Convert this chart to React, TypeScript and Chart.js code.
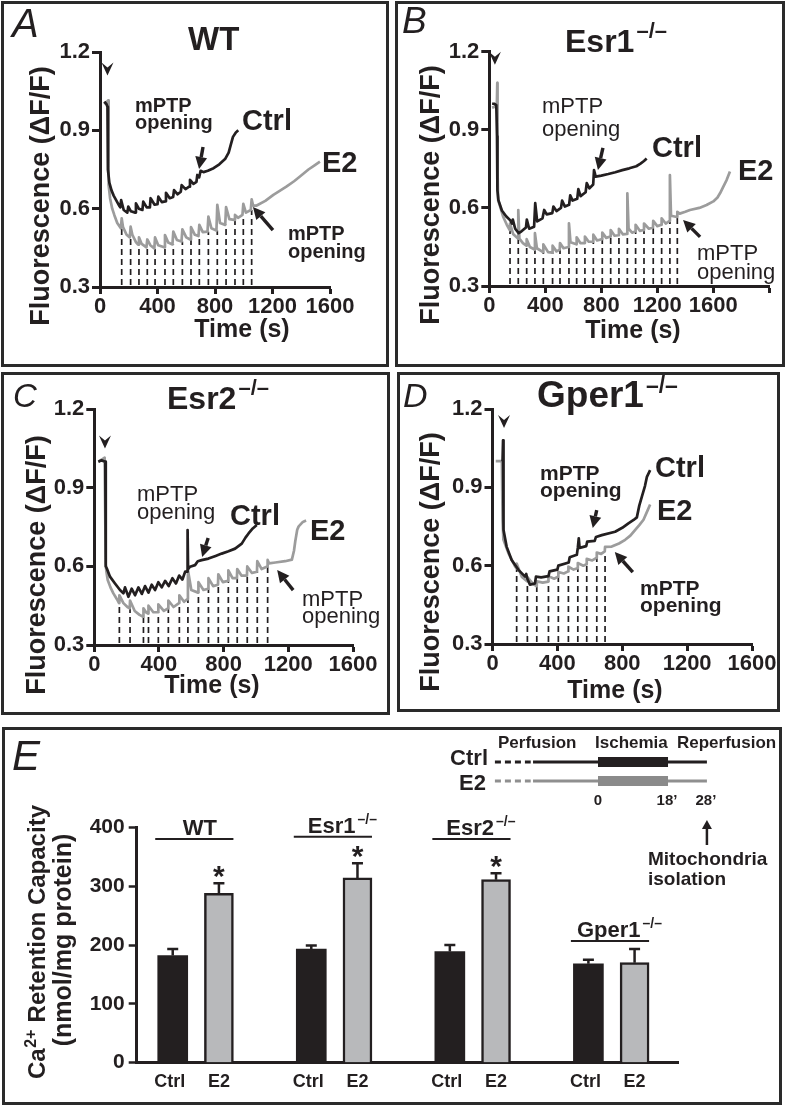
import React, { useEffect, useRef } from 'react';
import { Chart, registerables } from 'chart.js';

Chart.register(...registerables);

const SANS = "'Liberation Sans', Arial, Helvetica, sans-serif";
const NARROW = "'Liberation Sans Narrow', 'Arial Narrow', 'Liberation Sans', Arial, sans-serif";
const INK = '#231f20';
const GRAY = '#9c9c9c';

// ---------------- Panel A: WT ----------------
const wtCtrl = [[30,1.01],[45,1.0],[52,0.99],[55,0.75],[65,0.70],[80,0.67],[95,0.65],[115,0.63],[135,0.61],[141,0.605],[147,0.633],[165,0.595],[190,0.585],[197,0.608],[215,0.59],[245,0.585],[250,0.62],[270,0.60],[295,0.595],[301,0.627],[325,0.605],[347,0.605],[352,0.640],[380,0.615],[400,0.617],[406,0.646],[430,0.625],[453,0.628],[459,0.661],[485,0.64],[509,0.645],[515,0.671],[540,0.655],[562,0.665],[568,0.690],[595,0.675],[620,0.684],[626,0.71],[650,0.695],[671,0.703],[677,0.729],[690,0.72],[700,0.745],[720,0.74],[750,0.745],[790,0.755],[830,0.77],[870,0.79],[895,0.815],[910,0.845],[925,0.875],[945,0.892],[962,0.9]];
const wtE2 = [[30,1.0],[50,1.01],[57,1.015],[60,0.69],[70,0.64],[85,0.6],[100,0.575],[120,0.545],[145,0.525],[151,0.563],[160,0.53],[185,0.5],[207,0.49],[213,0.531],[225,0.5],[250,0.472],[265,0.462],[271,0.49],[290,0.465],[323,0.452],[329,0.482],[350,0.46],[378,0.448],[383,0.49],[405,0.46],[446,0.452],[452,0.499],[475,0.47],[504,0.463],[510,0.512],[535,0.48],[567,0.474],[573,0.521],[600,0.49],[627,0.482],[633,0.529],[660,0.5],[685,0.495],[691,0.538],[715,0.51],[748,0.512],[754,0.57],[775,0.525],[810,0.516],[816,0.615],[835,0.545],[871,0.538],[877,0.606],[900,0.56],[933,0.557],[939,0.576],[960,0.565],[991,0.576],[997,0.618],[1015,0.585],[1049,0.595],[1055,0.636],[1065,0.612],[1090,0.612],[1150,0.63],[1206,0.653],[1250,0.668],[1299,0.685],[1350,0.705],[1391,0.723],[1450,0.75],[1490,0.765],[1530,0.78]];
const wtPulseTimes = [151,213,271,329,383,452,510,573,633,691,754,816,877,939,997,1055];
const wtPulseLevels = [0.525,0.49,0.462,0.452,0.448,0.452,0.463,0.474,0.482,0.495,0.512,0.516,0.538,0.557,0.576,0.595];
const wtMptp = [[689,0.752],[1064,0.606]];
const wtInjection = [52,1.11];

// ---------------- Panel B: Esr1-/- ----------------
const esr1Ctrl = [[20,1.0],[35,1.0],[50,0.995],[55,0.875],[58,0.667],[65,0.63],[90,0.59],[120,0.568],[150,0.552],[162,0.54],[168,0.555],[185,0.52],[210,0.503],[230,0.51],[262,0.525],[268,0.555],[285,0.52],[320,0.528],[328,0.618],[342,0.548],[380,0.56],[392,0.592],[410,0.575],[450,0.58],[458,0.605],[480,0.588],[512,0.6],[520,0.628],[540,0.605],[570,0.612],[578,0.648],[595,0.628],[628,0.635],[636,0.672],[652,0.645],[688,0.66],[696,0.695],[715,0.675],[742,0.69],[748,0.745],[760,0.72],[800,0.724],[850,0.73],[900,0.737],[950,0.745],[1000,0.752],[1050,0.76],[1080,0.77],[1105,0.78],[1124,0.79]];
const esr1E2 = [[20,0.985],[45,0.99],[54,1.0],[57,1.08],[59,0.74],[63,0.63],[80,0.6],[100,0.565],[125,0.535],[146,0.515],[148,0.54],[170,0.5],[205,0.482],[207,0.592],[215,0.482],[240,0.465],[265,0.455],[267,0.48],[290,0.45],[324,0.44],[326,0.503],[340,0.445],[384,0.43],[386,0.46],[420,0.43],[450,0.428],[452,0.455],[480,0.433],[503,0.44],[505,0.465],[530,0.445],[567,0.45],[569,0.541],[580,0.468],[622,0.46],[624,0.487],[650,0.465],[681,0.465],[683,0.49],[710,0.47],[741,0.47],[743,0.497],[770,0.475],[805,0.48],[807,0.505],[835,0.485],[865,0.49],[867,0.515],[895,0.493],[924,0.495],[926,0.52],[955,0.498],[984,0.5],[986,0.656],[995,0.52],[1020,0.505],[1043,0.51],[1045,0.535],[1075,0.512],[1103,0.515],[1105,0.54],[1140,0.52],[1169,0.525],[1171,0.55],[1200,0.53],[1229,0.535],[1231,0.56],[1260,0.54],[1288,0.55],[1290,0.726],[1298,0.57],[1341,0.565],[1343,0.585],[1360,0.578],[1400,0.585],[1433,0.592],[1500,0.6],[1552,0.611],[1600,0.625],[1630,0.64],[1648,0.656],[1670,0.68],[1695,0.707],[1719,0.74]];
const esr1PulseTimes = [148,207,267,326,386,452,505,569,624,683,743,807,867,926,986,1045,1105,1171,1231,1290,1343];
const esr1PulseLevels = [0.515,0.482,0.455,0.44,0.43,0.428,0.44,0.45,0.46,0.465,0.47,0.48,0.49,0.495,0.5,0.51,0.515,0.525,0.535,0.55,0.565];
const esr1Mptp = [[776,0.746],[1384,0.554]];
const esr1Injection = [40,1.15];

// ---------------- Panel C: Esr2-/- ----------------
const esr2Ctrl = [[25,1.0],[45,1.005],[68,1.0],[70,0.86],[72,0.6],[77,0.593],[97,0.561],[128,0.535],[159,0.51],[180,0.497],[190,0.52],[211,0.484],[231,0.515],[252,0.49],[273,0.52],[294,0.495],[314,0.525],[335,0.5],[355,0.53],[376,0.51],[396,0.54],[417,0.52],[438,0.545],[460,0.525],[483,0.555],[505,0.535],[525,0.565],[545,0.55],[562,0.58],[574,0.58],[577,0.739],[580,0.59],[592,0.599],[623,0.605],[640,0.62],[664,0.624],[706,0.63],[750,0.64],[788,0.649],[830,0.658],[871,0.668],[912,0.687],[935,0.71],[954,0.726],[980,0.745],[1005,0.758]];
const esr2E2 = [[25,1.0],[50,1.01],[64,1.015],[68,0.77],[70,0.61],[75,0.58],[83,0.548],[100,0.52],[118,0.497],[140,0.475],[153,0.46],[155,0.49],[180,0.46],[205,0.445],[219,0.44],[221,0.47],[250,0.43],[280,0.415],[302,0.408],[304,0.44],[320,0.425],[333,0.42],[335,0.45],[365,0.425],[394,0.425],[396,0.455],[430,0.43],[456,0.44],[458,0.47],[490,0.445],[524,0.46],[526,0.49],[555,0.465],[576,0.475],[579,0.586],[600,0.51],[642,0.5],[644,0.54],[675,0.51],[704,0.515],[706,0.555],[735,0.525],[765,0.53],[767,0.57],[795,0.54],[827,0.545],[829,0.585],[855,0.555],[882,0.555],[884,0.59],[910,0.565],[944,0.565],[946,0.6],[975,0.575],[1006,0.58],[1008,0.62],[1035,0.59],[1070,0.6],[1072,0.625],[1080,0.612],[1120,0.615],[1180,0.62],[1222,0.626],[1235,0.66],[1243,0.696],[1255,0.74],[1264,0.753],[1290,0.77],[1310,0.775]];
const esr2PulseTimes = [155,221,304,335,396,458,526,579,644,706,767,829,884,946,1008,1072];
const esr2PulseLevels = [0.46,0.44,0.408,0.42,0.425,0.44,0.46,0.475,0.5,0.515,0.53,0.545,0.555,0.565,0.58,0.6];
const esr2Mptp = [[667,0.636],[1131,0.586]];
const esr2Injection = [66,1.05];

// ---------------- Panel D: Gper1-/- ----------------
const gper1Ctrl = [[62,1.0],[65,1.08],[68,0.737],[87,0.673],[118,0.622],[160,0.584],[201,0.558],[208,0.568],[215,0.55],[231,0.527],[262,0.532],[268,0.558],[300,0.555],[345,0.56],[352,0.578],[400,0.585],[406,0.6],[470,0.612],[476,0.632],[520,0.642],[526,0.668],[532,0.705],[537,0.668],[578,0.675],[584,0.692],[630,0.695],[638,0.71],[674,0.717],[756,0.73],[800,0.745],[838,0.762],[870,0.775],[890,0.785],[905,0.83],[921,0.864],[940,0.905],[952,0.94],[972,0.966]];
const gper1E2 = [[20,1.0],[45,1.0],[58,1.0],[62,0.775],[67,0.70],[98,0.648],[139,0.597],[147,0.59],[149,0.608],[180,0.558],[213,0.54],[215,0.556],[250,0.53],[271,0.522],[273,0.54],[310,0.535],[343,0.539],[345,0.56],[380,0.55],[404,0.558],[406,0.576],[440,0.57],[466,0.578],[468,0.596],[500,0.585],[524,0.59],[526,0.61],[560,0.6],[579,0.605],[581,0.626],[615,0.62],[641,0.63],[643,0.65],[670,0.645],[692,0.655],[694,0.672],[735,0.673],[780,0.685],[818,0.699],[850,0.715],[880,0.737],[905,0.755],[931,0.776],[955,0.81],[972,0.834]];
const gper1PulseTimes = [149,215,273,345,406,468,526,581,643,694];
const gper1PulseLevels = [0.59,0.54,0.522,0.539,0.558,0.578,0.59,0.605,0.63,0.655];
const gper1Mptp = [[618,0.744],[754,0.652]];
const gper1Injection = [71,1.127];

// ---------------- Axis ticks ----------------
const traceYTicks = [0.3, 0.6, 0.9, 1.2];
const traceXTicks = [0, 400, 800, 1200, 1600];
const traceXTicksLong = [0, 400, 800, 1200, 1600, 2000];

// ---------------- Panel E: Ca2+ retention capacity ----------------
const barGroups = ['WT', 'Esr1', 'Esr2', 'Gper1'];
const barGroupSup = ['', '\u2013/\u2013', '\u2013/\u2013', '\u2013/\u2013'];
const barLabels = ['Ctrl', 'E2'];
const ctrlMeans = [182, 193, 189, 168];
const ctrlSem = [11, 6, 11, 7];
const e2Means = [288, 314, 311, 170];
const e2Sem = [17, 25, 11, 23];
const significant = [true, true, true, false];
const groupLineLevels = [380, 384, 380, 207];
const barYTicks = [0, 100, 200, 300, 400];
const protocolMarks = [0, 18, 28];
const protocolMarkLabels = ['0', '18\u2019', '28\u2019'];

// ---------------- Layout (page pixel coordinates) ----------------
const KO = '\u2013/\u2013';
const tracePanels = [
  {
    box: [1, 1, 388, 366], area: [100, 52, 330, 287], xMax: 1600, xTicks: traceXTicks,
    ctrl: wtCtrl, e2: wtE2, pulseT: wtPulseTimes, pulseV: wtPulseLevels, mptp: wtMptp, inj: wtInjection,
    letter: { t: 'A', x: 12, y: 37, size: 40 },
    title: { base: 'WT', sup: '', x: 188, y: 50, size: 33, supSize: 22 },
    yTitle: [39, 196], xTitle: [242, 337],
    ctrlLabel: [242, 130], e2Label: [322, 172],
    mText: { weight: 'bold', size: 20, ctrl: [135, 112, 129], e2: [288, 240, 258] },
    tails: [[4, -22], [20, 23]],
  },
  {
    box: [395, 1, 390, 366], area: [489.3, 51.7, 769.3, 286], xMax: 2000, xTicks: traceXTicksLong,
    ctrl: esr1Ctrl, e2: esr1E2, pulseT: esr1PulseTimes, pulseV: esr1PulseLevels, mptp: esr1Mptp, inj: esr1Injection,
    letter: { t: 'B', x: 402, y: 33, size: 37 },
    title: { base: 'Esr1', sup: KO, x: 565, y: 52, size: 32, supSize: 22 },
    yTitle: [429, 195], xTitle: [633, 338],
    ctrlLabel: [652, 157], e2Label: [738, 180],
    mText: { weight: 'normal', size: 22, ctrl: [542, 113, 136], e2: [697, 260, 279] },
    tails: [[5, -22], [17, 17]],
  },
  {
    box: [1, 372, 389, 343], area: [94.3, 409.3, 353, 645], xMax: 1600, xTicks: traceXTicks,
    ctrl: esr2Ctrl, e2: esr2E2, pulseT: esr2PulseTimes, pulseV: esr2PulseLevels, mptp: esr2Mptp, inj: esr2Injection,
    letter: { t: 'C', x: 13, y: 407, size: 33 },
    title: { base: 'Esr2', sup: KO, x: 167, y: 409, size: 32, supSize: 22 },
    yTitle: [35, 565], xTitle: [212, 693],
    ctrlLabel: [230, 525], e2Label: [310, 540],
    mText: { weight: 'normal', size: 22, ctrl: [137, 501, 519], e2: [302, 606, 623] },
    tails: [[6, -19], [16, 20]],
  },
  {
    box: [397, 372, 383, 340], area: [492.5, 409, 752, 644], xMax: 1600, xTicks: traceXTicks,
    ctrl: gper1Ctrl, e2: gper1E2, pulseT: gper1PulseTimes, pulseV: gper1PulseLevels, mptp: gper1Mptp, inj: gper1Injection,
    letter: { t: 'D', x: 403, y: 407, size: 34 },
    title: { base: 'Gper1', sup: KO, x: 537, y: 407, size: 37, supSize: 23 },
    yTitle: [429, 562], xTitle: [615, 698],
    ctrlLabel: [655, 477], e2Label: [657, 520],
    mText: { weight: 'bold', size: 21, ctrl: [540, 480, 497], e2: [640, 595, 612] },
    tails: [[4, -18], [18, 20]],
  },
];
const barBox = [2, 727, 780, 378];
const barArea = [136.7, 827.3, 678, 1062.7];

// ---------------- drawing helpers ----------------
function drawText(ctx, s, x, y, font, align = 'left', color = INK) {
  ctx.save();
  ctx.font = font;
  ctx.fillStyle = color;
  ctx.textAlign = align;
  ctx.textBaseline = 'alphabetic';
  ctx.fillText(s, x, y);
  ctx.restore();
}

function drawSup(ctx, base, sup, x, y, size, supSize, raise, weight = 'bold', align = 'left') {
  ctx.save();
  ctx.fillStyle = INK;
  ctx.textBaseline = 'alphabetic';
  ctx.textAlign = 'left';
  ctx.font = `${weight} ${size}px ${SANS}`;
  const bw = ctx.measureText(base).width;
  ctx.font = `${weight} ${supSize}px ${SANS}`;
  const sw = sup ? ctx.measureText(sup).width + 2 : 0;
  const x0 = align === 'center' ? x - (bw + sw) / 2 : x;
  ctx.font = `${weight} ${size}px ${SANS}`;
  ctx.fillText(base, x0, y);
  if (sup) {
    ctx.font = `${weight} ${supSize}px ${SANS}`;
    ctx.fillText(sup, x0 + bw + 2, y - raise);
  }
  ctx.restore();
}

function drawArrow(ctx, x1, y1, x2, y2, w = 3.4, head = 12, half = 6) {
  const a = Math.atan2(y2 - y1, x2 - x1);
  const hx = x2 - head * Math.cos(a);
  const hy = y2 - head * Math.sin(a);
  ctx.save();
  ctx.strokeStyle = INK;
  ctx.fillStyle = INK;
  ctx.lineWidth = w;
  ctx.setLineDash([]);
  ctx.beginPath();
  ctx.moveTo(x1, y1);
  ctx.lineTo(hx, hy);
  ctx.stroke();
  ctx.beginPath();
  ctx.moveTo(x2, y2);
  ctx.lineTo(hx + half * Math.sin(a), hy - half * Math.cos(a));
  ctx.lineTo(hx - half * Math.sin(a), hy + half * Math.cos(a));
  ctx.closePath();
  ctx.fill();
  ctx.restore();
}

function drawChevron(ctx, x, y) {
  ctx.save();
  ctx.fillStyle = INK;
  ctx.beginPath();
  ctx.moveTo(x, y);
  ctx.lineTo(x - 6, y - 13);
  ctx.lineTo(x, y - 8);
  ctx.lineTo(x + 6, y - 13);
  ctx.closePath();
  ctx.fill();
  ctx.restore();
}

function rotatedText(ctx, cx, cy, draw) {
  ctx.save();
  ctx.translate(cx, cy);
  ctx.rotate(-Math.PI / 2);
  draw();
  ctx.restore();
}

// ---------------- trace panels ----------------
function makeTraceChart(canvas, cfg) {
  const [bx, by, bw, bh] = cfg.box;
  const [L, T, R, B] = cfg.area;
  const yW = 45;
  const xH = 30;
  const overlay = {
    id: 'traceOverlay',
    beforeDatasetsDraw(chart) {
      const { ctx, scales } = chart;
      const x = scales.x, y = scales.y;
      ctx.save();
      ctx.strokeStyle = INK;
      ctx.lineWidth = 1.7;
      ctx.setLineDash([6, 4]);
      cfg.pulseT.forEach((t, i) => {
        const px = x.getPixelForValue(t);
        ctx.beginPath();
        ctx.moveTo(px, y.getPixelForValue(0.3) - 2);
        ctx.lineTo(px, y.getPixelForValue(cfg.pulseV[i]));
        ctx.stroke();
      });
      ctx.restore();
    },
    afterDraw(chart) {
      const { ctx, scales } = chart;
      const x = scales.x, y = scales.y;
      const P = (px, py) => [px - bx, py - by];
      {
        const [lx, ly] = P(cfg.letter.x, cfg.letter.y);
        drawText(ctx, cfg.letter.t, lx, ly, `italic normal ${cfg.letter.size}px ${SANS}`);
      }
      {
        const [tx, ty] = P(cfg.title.x, cfg.title.y);
        drawSup(ctx, cfg.title.base, cfg.title.sup, tx, ty, cfg.title.size, cfg.title.supSize, 14, 'bold');
      }
      {
        const [cx, cy] = P(cfg.yTitle[0], cfg.yTitle[1]);
        rotatedText(ctx, cx, cy, () => {
          drawText(ctx, 'Fluorescence (\u0394F/F)', 0, 9.5, `bold 27px ${SANS}`, 'center');
        });
      }
      {
        const [cx, cy] = P(cfg.xTitle[0], cfg.xTitle[1]);
        drawText(ctx, 'Time (s)', cx, cy, `bold 25px ${SANS}`, 'center');
      }
      {
        const [a, b] = P(cfg.ctrlLabel[0], cfg.ctrlLabel[1]);
        drawText(ctx, 'Ctrl', a, b, `bold 29px ${SANS}`);
        const [c, d] = P(cfg.e2Label[0], cfg.e2Label[1]);
        drawText(ctx, 'E2', c, d, `bold 29px ${SANS}`);
      }
      const mf = `${cfg.mText.weight} ${cfg.mText.size}px ${SANS}`;
      [cfg.mText.ctrl, cfg.mText.e2].forEach((m) => {
        const [mx, my1] = P(m[0], m[1]);
        const my2 = m[2] - by;
        drawText(ctx, 'mPTP', mx, my1, mf);
        drawText(ctx, 'opening', mx, my2, mf);
      });
      cfg.mptp.forEach((pt, i) => {
        const tx = x.getPixelForValue(pt[0]);
        const ty = y.getPixelForValue(pt[1]);
        drawArrow(ctx, tx + cfg.tails[i][0], ty + cfg.tails[i][1], tx, ty);
      });
      drawChevron(ctx, x.getPixelForValue(cfg.inj[0]), y.getPixelForValue(cfg.inj[1]));
    },
  };
  return new Chart(canvas, {
    type: 'line',
    data: {
      datasets: [
        { data: cfg.ctrl.map(([t, v]) => ({ x: t, y: v })), borderColor: INK, backgroundColor: INK, borderWidth: 2.7, pointRadius: 0, tension: 0, borderJoinStyle: 'round', fill: false },
        { data: cfg.e2.map(([t, v]) => ({ x: t, y: v })), borderColor: GRAY, backgroundColor: GRAY, borderWidth: 2.7, pointRadius: 0, tension: 0, borderJoinStyle: 'round', fill: false },
      ],
    },
    options: {
      responsive: false,
      animation: false,
      events: [],
      layout: { padding: { left: L - bx - yW, top: T - by, right: bx + bw - R, bottom: by + bh - B - xH } },
      plugins: { legend: { display: false }, tooltip: { enabled: false } },
      scales: {
        x: {
          type: 'linear', min: 0, max: cfg.xMax, offset: false,
          afterFit: (s) => { s.height = xH; },
          afterBuildTicks: (s) => { s.ticks = cfg.xTicks.map((v) => ({ value: v })); },
          ticks: { color: INK, padding: 2, autoSkip: false, maxRotation: 0, font: { family: NARROW, size: 22, weight: 'bold', lineHeight: 1 }, callback: (v) => (v > 1600 ? '' : String(v)) },
          grid: { drawOnChartArea: false, drawTicks: true, tickLength: 7, tickWidth: 3, tickColor: INK },
          border: { display: true, color: INK, width: 3 },
        },
        y: {
          type: 'linear', min: 0.3, max: 1.2,
          afterFit: (s) => { s.width = yW; },
          afterBuildTicks: (s) => { s.ticks = traceYTicks.map((v) => ({ value: v })); },
          ticks: { color: INK, padding: 2, font: { family: NARROW, size: 22, weight: 'bold', lineHeight: 1 }, callback: (v) => Number(v).toFixed(1) },
          grid: { drawOnChartArea: false, drawTicks: true, tickLength: 8, tickWidth: 3, tickColor: INK },
          border: { display: true, color: INK, width: 3 },
        },
      },
    },
    plugins: [overlay],
  });
}

// ---------------- bar panel ----------------
function makeBarChart(canvas) {
  const [bx, by, bw, bh] = barBox;
  const [L, T, R, B] = barArea;
  const yW = 60;
  const xH = 10;
  const pos = (i, k) => i * 3 + k;
  const overlay = {
    id: 'barOverlay',
    afterDatasetsDraw(chart) {
      const { ctx, scales } = chart;
      const x = scales.x, y = scales.y;
      ctx.save();
      ctx.strokeStyle = INK;
      ctx.lineWidth = 2.5;
      const errs = [[ctrlMeans, ctrlSem, 0], [e2Means, e2Sem, 1]];
      errs.forEach(([means, sems, k]) => {
        barGroups.forEach((_, i) => {
          const px = x.getPixelForValue(pos(i, k));
          const y0 = y.getPixelForValue(means[i]);
          const y1 = y.getPixelForValue(means[i] + sems[i]);
          ctx.beginPath();
          ctx.moveTo(px, y0);
          ctx.lineTo(px, y1);
          ctx.moveTo(px - 5.5, y1);
          ctx.lineTo(px + 5.5, y1);
          ctx.stroke();
        });
      });
      ctx.restore();
    },
    afterDraw(chart) {
      const { ctx, scales } = chart;
      const x = scales.x, y = scales.y;
      drawText(ctx, 'E', 12 - bx, 770 - by, `italic normal 42px ${SANS}`);

      // y title, two rotated lines
      const f1 = `bold 24px ${SANS}`;
      const f2 = `bold 16px ${SANS}`;
      ctx.save();
      ctx.font = f1;
      const wCa = ctx.measureText('Ca').width;
      const wRest = ctx.measureText(' Retention Capacity').width;
      ctx.font = f2;
      const wSup = ctx.measureText('2+').width + 1;
      ctx.restore();
      const total = wCa + wSup + wRest;
      rotatedText(ctx, 36.7 - bx, 942 - by, () => {
        const x0 = -total / 2;
        drawText(ctx, 'Ca', x0, 8.5, f1);
        drawText(ctx, '2+', x0 + wCa + 0.5, -0.5, f2);
        drawText(ctx, ' Retention Capacity', x0 + wCa + wSup, 8.5, f1);
      });
      rotatedText(ctx, 61.7 - bx, 940 - by, () => {
        drawText(ctx, '(nmol/mg protein)', 0, 9, `bold 25px ${SANS}`, 'center');
      });

      // group lines, labels, stars, bar labels
      barGroups.forEach((g, i) => {
        const cx = x.getPixelForValue(pos(i, 0));
        const ex = x.getPixelForValue(pos(i, 1));
        const ly = y.getPixelForValue(groupLineLevels[i]);
        ctx.save();
        ctx.strokeStyle = INK;
        ctx.lineWidth = 2;
        ctx.beginPath();
        ctx.moveTo(cx - 17.5, ly);
        ctx.lineTo(ex + 14.5, ly);
        ctx.stroke();
        ctx.restore();
        drawSup(ctx, g, barGroupSup[i], (cx + ex) / 2 + (barGroupSup[i] ? 8 : 4), ly - 4, 22, 14, 9, 'bold', 'center');
        if (significant[i]) {
          const st = y.getPixelForValue(e2Means[i] + e2Sem[i]);
          drawText(ctx, '*', ex, st + 3, `bold 30px ${SANS}`, 'center');
        }
        const lb = 1087 - by;
        drawText(ctx, barLabels[0], cx - 3, lb, `bold 18px ${SANS}`, 'center');
        drawText(ctx, barLabels[1], ex, lb, `bold 18px ${SANS}`, 'center');
      });

      // protocol schematic
      const sx = (m) => 598 + m * 3.89 - bx;
      const rowCtrl = 762 - by;
      const rowE2 = 781 - by;
      drawText(ctx, 'Perfusion', 498 - bx, 748 - by, `bold 17px ${SANS}`);
      drawText(ctx, 'Ischemia', 595 - bx, 748 - by, `bold 17px ${SANS}`);
      drawText(ctx, 'Reperfusion', 677 - bx, 748 - by, `bold 17px ${SANS}`);
      drawText(ctx, 'Ctrl', 488 - bx, 765 - by, `bold 22px ${SANS}`, 'right');
      drawText(ctx, 'E2', 486 - bx, 790 - by, `bold 22px ${SANS}`, 'right');
      [[rowCtrl, INK, INK], [rowE2, '#8f8f8f', '#8a8a8a']].forEach(([ry, lc, fc]) => {
        ctx.save();
        ctx.strokeStyle = lc;
        ctx.lineWidth = 3;
        ctx.setLineDash([6, 4]);
        ctx.beginPath();
        ctx.moveTo(sx(-26.5), ry);
        ctx.lineTo(sx(-17.3), ry);
        ctx.stroke();
        ctx.setLineDash([]);
        ctx.beginPath();
        ctx.moveTo(sx(-16.7), ry);
        ctx.lineTo(sx(protocolMarks[2]), ry);
        ctx.stroke();
        ctx.fillStyle = fc;
        ctx.fillRect(sx(protocolMarks[0]), ry - 5, sx(protocolMarks[1]) - sx(protocolMarks[0]), 10);
        ctx.restore();
      });
      protocolMarks.forEach((m, i) => {
        drawText(ctx, protocolMarkLabels[i], sx(m) + (i === 0 ? 0 : -1), 805 - by, `bold 15px ${SANS}`, 'center');
      });
      drawArrow(ctx, sx(protocolMarks[2]), 845 - by, sx(protocolMarks[2]), 820 - by, 2.5, 9, 5);
      drawText(ctx, 'Mitochondria', 648 - bx, 865 - by, `bold 19px ${SANS}`);
      drawText(ctx, 'isolation', 648 - bx, 885 - by, `bold 19px ${SANS}`);
    },
  };
  return new Chart(canvas, {
    type: 'bar',
    data: {
      datasets: [
        { data: barGroups.map((_, i) => ({ x: pos(i, 0), y: ctrlMeans[i] })), backgroundColor: INK, borderColor: INK, borderWidth: 0, barThickness: 30, grouped: false },
        { data: barGroups.map((_, i) => ({ x: pos(i, 1), y: e2Means[i] })), backgroundColor: '#b8b9bb', borderColor: INK, borderWidth: 2.5, barThickness: 29, grouped: false },
      ],
    },
    options: {
      responsive: false,
      animation: false,
      events: [],
      layout: { padding: { left: L - bx - yW, top: T - by, right: bx + bw - R, bottom: by + bh - B - xH } },
      plugins: { legend: { display: false }, tooltip: { enabled: false } },
      scales: {
        x: {
          type: 'linear', min: -0.78, max: 10.94, offset: false,
          afterFit: (s) => { s.height = xH; },
          ticks: { display: false },
          grid: { display: false },
          border: { display: true, color: INK, width: 3 },
        },
        y: {
          type: 'linear', min: 0, max: 400,
          afterFit: (s) => { s.width = yW; },
          afterBuildTicks: (s) => { s.ticks = barYTicks.map((v) => ({ value: v })); },
          ticks: { color: INK, padding: 4, font: { family: SANS, size: 21, weight: 'bold', lineHeight: 1 } },
          grid: { drawOnChartArea: false, drawTicks: true, tickLength: 8, tickWidth: 2.5, tickColor: INK },
          border: { display: true, color: INK, width: 3 },
        },
      },
    },
    plugins: [overlay],
  });
}

export default function App() {
  const refs = useRef([]);
  useEffect(() => {
    const charts = tracePanels.map((cfg, i) => makeTraceChart(refs.current[i], cfg));
    charts.push(makeBarChart(refs.current[4]));
    return () => charts.forEach((c) => c.destroy());
  }, []);
  const boxes = [...tracePanels.map((p) => p.box), barBox];
  return (
    <div style={{ position: 'absolute', left: 0, top: 0, width: 786, height: 1108, background: '#ffffff', overflow: 'hidden' }}>
      {boxes.map((b, i) => (
        <React.Fragment key={i}>
          <canvas
            ref={(el) => { refs.current[i] = el; }}
            width={b[2]}
            height={b[3]}
            style={{ position: 'absolute', left: b[0], top: b[1], width: b[2], height: b[3] }}
          />
          <div style={{ position: 'absolute', left: b[0], top: b[1], width: b[2], height: b[3], boxSizing: 'border-box', border: '3px solid #2a2a2a', pointerEvents: 'none' }} />
        </React.Fragment>
      ))}
    </div>
  );
}
